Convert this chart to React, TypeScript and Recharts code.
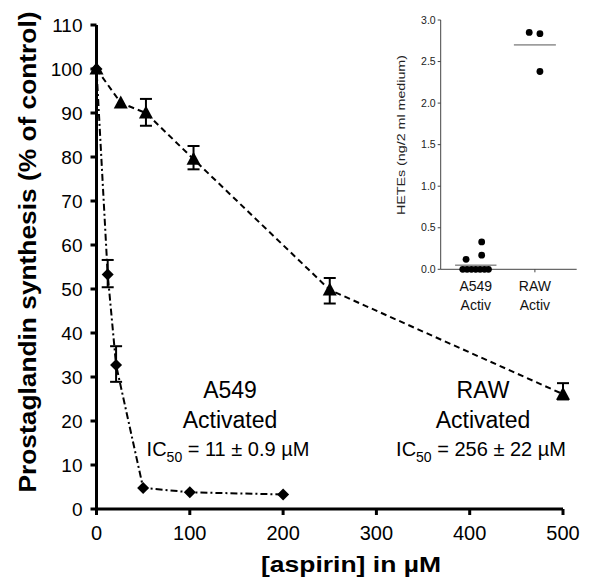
import React from 'react';
import { ComposedChart, ScatterChart, Scatter, XAxis, YAxis, ErrorBar, ReferenceLine } from 'recharts';

const FONT = '"Liberation Sans", Arial, Helvetica, sans-serif';

// main panel: prostaglandin synthesis vs aspirin dose
const a549Conc = [0, 12, 21, 50, 100, 200];
const a549Pg = [100, 53.3, 32.7, 4.8, 3.8, 3.3];
const a549Err = [null, [2.9, 3.3], [3.8, 4.3], null, null, null];

const rawConc = [0, 26, 53, 104, 250, 500];
const rawPg = [100, 92.3, 90, 79.5, 49.8, 26.1];
const rawErr = [null, null, [2.9, 3.2], [2.3, 3.0], [3.1, 2.7], [1.2, 2.5]];

const xTicks = [0, 100, 200, 300, 400, 500];
const yTicks = [0, 10, 20, 30, 40, 50, 60, 70, 80, 90, 100, 110];

// inset: HETEs per group (x jitter)
const insetGroups = ['A549 Activ', 'RAW Activ'];
const a549Hetes = [0, 0, 0, 0, 0, 0, 0, 0.12, 0.17, 0.33];
const a549Jitter = [-0.22, -0.147, -0.073, 0, 0.073, 0.147, 0.215, -0.164, 0.1, 0.1];
const rawHetes = [2.85, 2.835, 2.38];
const rawJitter = [-0.096, 0.085, 0.085];
const groupMeans = [0.05, 2.7];
const insetTicks = [0, 0.5, 1, 1.5, 2, 2.5, 3];

const a549Data = a549Conc.map((x, i) => ({ x, y: a549Pg[i], err: a549Err[i] }));
const rawData = rawConc.map((x, i) => ({ x, y: rawPg[i], err: rawErr[i] }));
const a549Dots = a549Hetes.map((y, i) => ({ x: 1 + a549Jitter[i], y }));
const rawDots = rawHetes.map((y, i) => ({ x: 2 + rawJitter[i], y }));

const Triangle = (props: any) => {
  const { cx, cy } = props;
  if (cx == null || cy == null) return null;
  return <path d={`M${cx},${cy - 7.5}L${cx + 7},${cy + 5.5}L${cx - 7},${cy + 5.5}Z`} fill="#000" />;
};

const Diamond = (props: any) => {
  const { cx, cy } = props;
  if (cx == null || cy == null) return null;
  return <path d={`M${cx},${cy - 6}L${cx + 6},${cy}L${cx},${cy + 6}L${cx - 6},${cy}Z`} fill="#000" />;
};

const Dot = (props: any) => {
  const { cx, cy } = props;
  if (cx == null || cy == null) return null;
  return <circle cx={cx} cy={cy} r={3.4} fill="#000" />;
};

const InsetTick = ({ x, y, payload }: any) => {
  const [name, sub] = insetGroups[payload.value - 1].split(' ');
  return (
    <text x={x} y={y} textAnchor="middle" fontSize={14} fontFamily={FONT} fill="#111">
      <tspan x={x} dy={17}>{name}</tspan>
      <tspan x={x} dy={19}>{sub}</tspan>
    </text>
  );
};

const Annotation = ({ x, name, ic }: { x: number; name: string; ic: string }) => (
  <g fontFamily={FONT} fill="#000" textAnchor="middle">
    <text x={x} y={390} fontSize={23}>{name}</text>
    <text x={x} y={420} fontSize={23}>Activated</text>
    <text x={x - 2} y={448} fontSize={20}>
      IC<tspan fontSize={14} dy={6}>50</tspan>
      <tspan dy={-6}>{` = ${ic} µM`}</tspan>
    </text>
  </g>
);

export default function App() {
  return (
    <div style={{ position: 'relative', width: 594, height: 577 }}>
      <ComposedChart width={594} height={577} margin={{ top: 17, right: 39, bottom: 26, left: 28.5 }}>
        <XAxis
          type="number"
          dataKey="x"
          domain={[0, 500]}
          ticks={xTicks}
          interval={0}
          height={50}
          stroke="#000"
          strokeWidth={3}
          tickSize={6}
          tickMargin={11}
          tick={{ fontSize: 20, fill: '#000', fontFamily: FONT }}
          label={{
            content: () => (
              <text x={343} y={564} textAnchor="middle" fontSize={22} fontWeight="bold" fontFamily={FONT} textLength={180} lengthAdjust="spacingAndGlyphs">
                [aspirin] in µM
              </text>
            ),
          }}
        />
        <YAxis
          type="number"
          dataKey="y"
          domain={[0, 110]}
          ticks={yTicks}
          interval={0}
          width={60}
          stroke="#000"
          strokeWidth={3}
          tickSize={6}
          tickMargin={8}
          tick={{ fontSize: 19, fill: '#000', fontFamily: FONT }}
          label={{
            content: () => (
              <text x={28} y={244} transform="rotate(-90, 28, 244)" textAnchor="middle" fontSize={23} fontWeight="bold" fontFamily={FONT} textLength={481} lengthAdjust="spacingAndGlyphs">
                Prostaglandin synthesis (% of control)
              </text>
            ),
          }}
        />
        <Scatter
          data={rawData}
          isAnimationActive={false}
          shape={<Triangle />}
          line={{ stroke: '#000', strokeWidth: 2, strokeDasharray: '6 4' }}
          lineType="joint"
        >
          <ErrorBar dataKey="err" direction="y" width={6} stroke="#000" strokeWidth={2} />
        </Scatter>
        <Scatter
          data={a549Data}
          isAnimationActive={false}
          shape={<Diamond />}
          line={{ stroke: '#000', strokeWidth: 2, strokeDasharray: '7 3 2 3' }}
          lineType="joint"
        >
          <ErrorBar dataKey="err" direction="y" width={6} stroke="#000" strokeWidth={2} />
        </Scatter>
        <Annotation x={222} name="A549" ic="11 ± 0.9" />
        <Annotation x={475} name="RAW" ic="256 ± 22" />
      </ComposedChart>

      <div style={{ position: 'absolute', left: 382, top: 0 }}>
        <ScatterChart width={210} height={312} margin={{ top: 12, right: 23.3, bottom: 5.7, left: 15.7 }}>
          <XAxis
            type="number"
            dataKey="x"
            domain={[0.407, 2.707]}
            ticks={[1, 2]}
            interval={0}
            height={45}
            stroke="#444"
            tickSize={3}
            tickMargin={2}
            tick={<InsetTick />}
          />
          <YAxis
            type="number"
            dataKey="y"
            domain={[0, 3]}
            ticks={insetTicks}
            interval={0}
            width={35}
            stroke="#444"
            tickSize={3}
            tickMargin={2}
            tickFormatter={(v: number) => v.toFixed(1)}
            tick={{ fontSize: 10.5, fill: '#222', fontFamily: FONT }}
            label={{
              content: () => (
                <text x={11} y={127} transform="rotate(-90, 11, 127)" textAnchor="middle" dominantBaseline="central" fontSize={11} fill="#222" fontFamily={FONT} textLength={160} lengthAdjust="spacingAndGlyphs">
                  HETEs (ng/2 ml medium)
                </text>
              ),
            }}
          />
          <ReferenceLine segment={[{ x: 0.65, y: groupMeans[0] }, { x: 1.35, y: groupMeans[0] }]} stroke="#555" strokeWidth={1} />
          <ReferenceLine segment={[{ x: 1.645, y: groupMeans[1] }, { x: 2.355, y: groupMeans[1] }]} stroke="#555" strokeWidth={1} />
          <Scatter data={a549Dots} isAnimationActive={false} shape={<Dot />} />
          <Scatter data={rawDots} isAnimationActive={false} shape={<Dot />} />
        </ScatterChart>
      </div>
    </div>
  );
}
